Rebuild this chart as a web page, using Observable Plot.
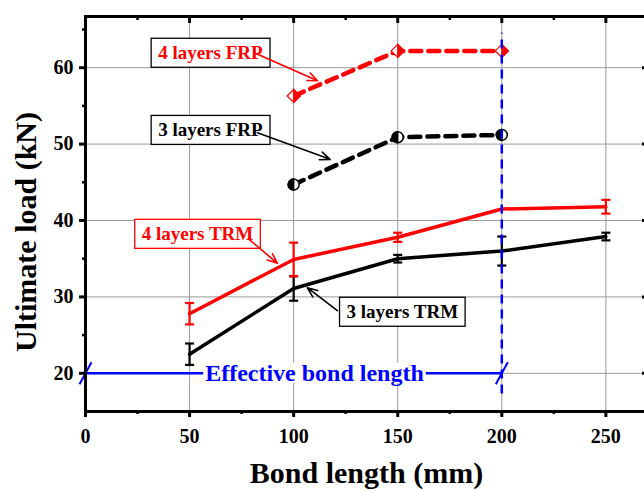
<!DOCTYPE html>
<html><head><meta charset="utf-8">
<script src="https://cdn.jsdelivr.net/npm/d3@7"></script>
<script src="https://cdn.jsdelivr.net/npm/@observablehq/plot@0.6"></script>
<style>
html,body{margin:0;padding:0;background:#fff;overflow:hidden;}
#chart svg{max-width:none !important;}
</style></head><body><div id="chart"></div>
<script>
// ---- data ----
const bondLength = [50, 100, 150, 200, 250];
const trm4 = [27.8, 34.9, 37.8, 41.5, 41.8];
const trm4Err = [1.4, 2.2, 0.6, 0, 0.9];
const trm3 = [22.5, 31.1, 35.0, 36.0, 37.9];
const trm3Err = [1.4, 1.6, 0.5, 1.9, 0.5];
const frpLength = [100, 150, 200];
const frp4 = [56.3, 62.2, 62.2];
const frp3 = [44.7, 50.9, 51.2];
const xTicks = [0, 50, 100, 150, 200, 250];
const xMinor = [25, 75, 125, 175, 225];
const yTicks = [20, 30, 40, 50, 60];
const yMinor = [25, 35, 45, 55, 65];
const effectiveRange = [0, 200];
const effectiveLoad = 20;
const effectiveText = "Effective bond length";
const effectiveTextX = 110;
const limitLine = [17.3, 64.5];
const annotText = ["4 layers FRP", "3 layers FRP", "4 layers TRM", "3 layers TRM"];
const annotX = [60, 60, 53.8, 152.2];
const annotY = [61.9, 51.8, 38.2, 28.0];
const annotColor = ["red", "black", "red", "black"];
const annotBorder = ["black", "black", "red", "black"];
const arrowFrom = [[81.6, 61.9], [82.6, 51.5], [78.3, 37.6], [121, 28.2]];
const arrowTo = [[111.5, 58.3], [117.5, 48.0], [92.2, 34.4], [106.6, 31.2]];

// ---- tables ----
const trm4Data = bondLength.map((x, i) => ({x, y: trm4[i], e: trm4Err[i]}));
const trm3Data = bondLength.map((x, i) => ({x, y: trm3[i], e: trm3Err[i]}));
const frp4Data = frpLength.map((x, i) => ({x, y: frp4[i]}));
const frp3Data = frpLength.map((x, i) => ({x, y: frp3[i]}));
const annots = annotText.map((t, i) => ({t, x: annotX[i], y: annotY[i], c: annotColor[i]}));
const arrows = arrowFrom.map((f, i) => ({x1: f[0], y1: f[1], x2: arrowTo[i][0], y2: arrowTo[i][1], c: annotColor[i]}));

// ---- custom symbols ----
const rOf = s => Math.sqrt(s / Math.PI);
const capSym = {draw(ctx) { ctx.moveTo(-4.5, 0); ctx.lineTo(4.5, 0); }};
const slashSym = {draw(ctx) { ctx.moveTo(-6, 11); ctx.lineTo(6, -11); }};
const diamondSym = {draw(ctx, s) { const r = rOf(s); ctx.moveTo(0, -r); ctx.lineTo(r, 0); ctx.lineTo(0, r); ctx.lineTo(-r, 0); ctx.closePath(); }};
const diamondRight = {draw(ctx, s) { const r = rOf(s); ctx.moveTo(0, -r); ctx.lineTo(r, 0); ctx.lineTo(0, r); ctx.closePath(); }};
const circleSym = {draw(ctx, s) { const r = rOf(s); ctx.moveTo(r, 0); ctx.arc(0, 0, r, 0, 2 * Math.PI); ctx.closePath(); }};
const circleLeft = {draw(ctx, s) { const r = rOf(s); ctx.moveTo(0, -r); ctx.arc(0, 0, r, -Math.PI / 2, Math.PI / 2, true); ctx.closePath(); }};

function errMarks(data, color) {
  const d = data.filter(v => v.e > 0);
  return [
    Plot.ruleX(d, {x: "x", y1: v => v.y - v.e, y2: v => v.y + v.e, stroke: color, strokeWidth: 2.2}),
    Plot.dot(d, {x: "x", y: v => v.y + v.e, symbol: capSym, r: 2, stroke: color, strokeWidth: 2.2, fill: "none"}),
    Plot.dot(d, {x: "x", y: v => v.y - v.e, symbol: capSym, r: 2, stroke: color, strokeWidth: 2.2, fill: "none"})
  ];
}

const grid = "#9a9a9a";
const chart = Plot.plot({
  width: 650, height: 491,
  marginLeft: 85, marginRight: 3, marginTop: 16, marginBottom: 80,
  x: {domain: [0, 270]},
  y: {domain: [15, 66.7]},
  style: {fontFamily: "'Liberation Serif', 'Times New Roman', serif", fontWeight: "bold", background: "white", color: "black", maxWidth: "none"},
  marks: [
    Plot.gridX(xTicks.slice(1), {stroke: grid, strokeOpacity: 1, strokeWidth: 1}),
    Plot.gridY(yTicks, {stroke: grid, strokeOpacity: 1, strokeWidth: 1}),
    // effective bond length
    Plot.link([effectiveRange], {x1: d => d[0], x2: d => d[1], y1: () => effectiveLoad, y2: () => effectiveLoad, stroke: "blue", strokeWidth: 2.5}),
    Plot.dot(effectiveRange, {x: d => d, y: () => effectiveLoad, symbol: slashSym, r: 2, stroke: "blue", strokeWidth: 2, fill: "none"}),
    Plot.text([effectiveText], {x: () => effectiveTextX, y: () => effectiveLoad, fill: "blue", fontSize: 24}),
    // frame + axes
    Plot.frame({stroke: "black", strokeWidth: 3}),
    Plot.axisX(xTicks, {anchor: "bottom", tickSize: 6, tickPadding: 11, strokeWidth: 3, fontSize: 20, label: null}),
    Plot.axisX(xMinor, {anchor: "bottom", tickSize: 3, strokeWidth: 2.5, text: null, label: null}),
    Plot.axisX(xTicks.slice(1), {anchor: "top", tickSize: -6, strokeWidth: 3, text: null, label: null}),
    Plot.axisX(xMinor, {anchor: "top", tickSize: -3, strokeWidth: 2.5, text: null, label: null}),
    Plot.axisY(yTicks, {anchor: "left", tickSize: 6, tickPadding: 6, strokeWidth: 3, fontSize: 20, label: null}),
    Plot.axisY(yMinor, {anchor: "left", tickSize: 3, strokeWidth: 2.5, text: null, label: null}),
    Plot.axisY(yTicks, {anchor: "right", tickSize: -6, strokeWidth: 3, text: null, label: null}),
    Plot.text(["Bond length (mm)"], {frameAnchor: "bottom", dy: 62, fontSize: 30, lineAnchor: "middle", textAnchor: "middle"}),
    Plot.text(["Ultimate load (kN)"], {frameAnchor: "left", dx: -59, dy: 18, rotate: -90, fontSize: 30, lineAnchor: "middle", textAnchor: "middle"}),
    // TRM series
    Plot.line(trm3Data, {x: "x", y: "y", stroke: "black", strokeWidth: 3.5}),
    ...errMarks(trm3Data, "black"),
    Plot.line(trm4Data, {x: "x", y: "y", stroke: "red", strokeWidth: 3.5}),
    ...errMarks(trm4Data, "red"),
    // FRP series
    Plot.line(frp4Data, {x: "x", y: "y", stroke: "red", strokeWidth: 4.5, strokeDasharray: "11,7"}),
    Plot.line(frp3Data, {x: "x", y: "y", stroke: "black", strokeWidth: 4.5, strokeDasharray: "11,7"}),
    Plot.dot(frp4Data, {x: "x", y: "y", symbol: diamondSym, r: 6.5, fill: "white", stroke: "red", strokeWidth: 1.2}),
    Plot.dot(frp4Data, {x: "x", y: "y", symbol: diamondRight, r: 6.5, fill: "red", stroke: "red", strokeWidth: 1.2}),
    Plot.dot(frp3Data, {x: "x", y: "y", symbol: circleSym, r: 5.5, fill: "white", stroke: "black", strokeWidth: 1.5}),
    Plot.dot(frp3Data, {x: "x", y: "y", symbol: circleLeft, r: 5.5, fill: "black", stroke: "black", strokeWidth: 1.5}),
    // vertical limit line
    Plot.ruleX([effectiveRange[1]], {y1: () => limitLine[0], y2: () => limitLine[1], stroke: "blue", strokeWidth: 2.5, strokeDasharray: "9,6"}),
    // annotations
    Plot.text(annots, {x: "x", y: "y", text: "t", fill: "c", fontSize: 19}),
    Plot.arrow(arrows, {x1: "x1", y1: "y1", x2: "x2", y2: "y2", stroke: "c", strokeWidth: 1.6, headLength: 10, headAngle: 45})
  ]
});
document.getElementById("chart").append(chart);

function boxFor(str, padX, padY, fill, stroke) {
  const t = Array.from(chart.querySelectorAll("text")).find(e => e.textContent === str);
  if (!t) return;
  const b = t.getBBox();
  const r = document.createElementNS("http://www.w3.org/2000/svg", "rect");
  r.setAttribute("x", b.x - padX);
  r.setAttribute("y", b.y - padY);
  r.setAttribute("width", b.width + 2 * padX);
  r.setAttribute("height", b.height + 2 * padY);
  const tr = t.getAttribute("transform");
  if (tr) r.setAttribute("transform", tr);
  r.setAttribute("fill", fill);
  if (stroke) { r.setAttribute("stroke", stroke); r.setAttribute("stroke-width", 1.3); }
  else r.setAttribute("stroke", "none");
  t.parentNode.insertBefore(r, t);
}
annotText.forEach((s, i) => boxFor(s, 7, 4, "white", annotBorder[i]));
boxFor(effectiveText, 2, -3, "white", null);
</script></body></html>
